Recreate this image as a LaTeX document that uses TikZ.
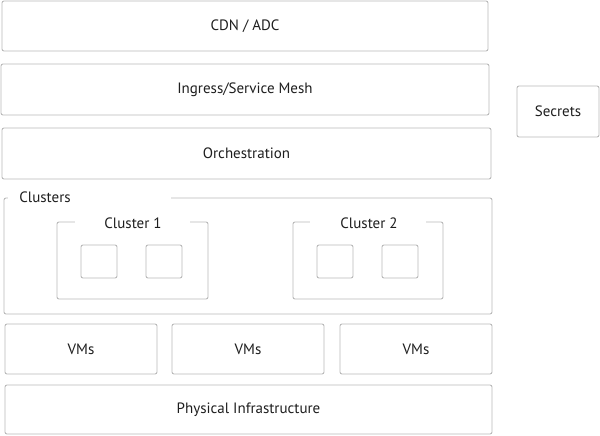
\documentclass[tikz,border=0pt]{standalone}
\usepackage{xcolor}
\usepackage{fontspec}
\setmainfont{PT Sans}
\usepackage{tikz}
\definecolor{boxline}{RGB}{185,185,185}
\definecolor{labeltext}{RGB}{30,30,30}
\tikzset{
  layer/.style={draw=boxline, line width=0.9pt, rounded corners=2pt, fill=white,
    inner sep=0pt, outer sep=0pt, text=labeltext, font=\fontsize{15}{17}\selectfont},
  tag/.style={text=labeltext, font=\fontsize{15}{17}\selectfont, inner sep=0pt}
}

\begin{document}
\begin{tikzpicture}[x=1pt, y=-1pt]
                \useasboundingbox (0,0) rectangle (600,436);
                \node[layer, minimum width=486pt, minimum height=50pt] (cdn) at (245,26) {CDN / ADC};
                \node[layer, minimum width=488pt, minimum height=51pt] (ingress) at (245,89.5) {Ingress/Service Mesh};
                \node[layer, minimum width=489pt, minimum height=51pt] (orch) at (246.5,153.5) {Orchestration};
                \node[layer, minimum width=82pt, minimum height=51pt] (secrets) at (558,111.5) {\raisebox{1.5pt}{Secrets}};
                % clusters frame with its label cut in
                \node[layer, minimum width=488pt, minimum height=116pt] (clusters) at (248,256) {};
                \fill[white] (8,187) rectangle (171,212);
                \node[tag] (clusterslbl) at (45,197) {Clusters};
                % cluster 1
                \node[layer, minimum width=151pt, minimum height=77pt] (cluster1) at (132.5,260.5) {};
                \fill[white] (75,210) rectangle (190,238);
                \node[tag] (cluster1lbl) at (133,223) {Cluster 1};
                \node[layer, minimum width=36pt, minimum height=33pt] (podA) at (99,261.5) {};
                \node[layer, minimum width=36pt, minimum height=33pt] (podB) at (164,261.5) {};
                % cluster 2
                \node[layer, minimum width=150pt, minimum height=77pt] (cluster2) at (368,260.5) {};
                \fill[white] (310,210) rectangle (426,238);
                \node[tag] (cluster2lbl) at (369,223) {Cluster 2};
                \node[layer, minimum width=36pt, minimum height=33pt] (podC) at (335,261.5) {};
                \node[layer, minimum width=36pt, minimum height=33pt] (podD) at (400,261.5) {};
                % vms and hardware
                \node[layer, minimum width=152pt, minimum height=50pt] (vm1) at (81,349) {VMs};
                \node[layer, minimum width=152pt, minimum height=50pt] (vm2) at (248,349) {VMs};
                \node[layer, minimum width=152pt, minimum height=50pt] (vm3) at (416,349) {VMs};
                \node[layer, minimum width=487pt, minimum height=49pt] (physical) at (248.5,409.5) {Physical Infrastructure};
            \end{tikzpicture}
\end{document}
